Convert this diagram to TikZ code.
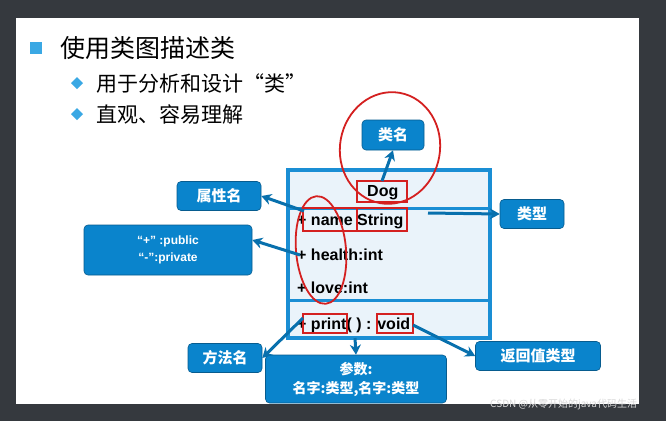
\documentclass[tikz,border=0pt]{standalone}
\usepackage{fontspec}
\setmainfont{Liberation Sans}
\newfontfamily\cjk{Noto Sans CJK SC}
\usetikzlibrary{arrows.meta}
\definecolor{dark}{HTML}{35393E}
\definecolor{lblue}{HTML}{0A84CC}
\definecolor{bul}{HTML}{3AA8E4}
\definecolor{boxfill}{HTML}{EAF3FA}
\definecolor{boxline}{HTML}{1A8ED4}
\definecolor{redc}{HTML}{D42020}
\tikzset{
 lbl/.style={fill=lblue,draw=lblue!70!black,line width=0.6pt,rounded corners=4pt,text=white,font=\cjk\bfseries\fontsize{15}{17}\selectfont,inner sep=0pt},
 arr/.style={draw=lblue!85!black,line width=3pt,-{Stealth[length=10pt,width=11pt]}},
 redbox/.style={draw=redc,line width=2pt},
 redring/.style={draw=redc,line width=1.8pt},
 uml/.style={font=\bfseries\fontsize{16}{18}\selectfont,anchor=west,inner sep=0pt},
}
\begin{document}
\begin{tikzpicture}[x=1pt,y=-1pt]
\fill[dark] (0,0) rectangle (666,421);
\fill[white] (16,18) rectangle (639,404);
% bullets
\fill[bul] (30,42) rectangle (42,54);
\node[anchor=west,inner sep=0pt,font=\cjk\fontsize{25}{27}\selectfont] (t1) at (60,48) {使用类图描述类};
\fill[bul] (71,83) -- (77,77) -- (83,83) -- (77,89) -- cycle;
\node[anchor=west,inner sep=0pt,font=\cjk\fontsize{21}{23}\selectfont] (t2) at (96,83) {用于分析和设计“类”};
\fill[bul] (71,114) -- (77,108) -- (83,114) -- (77,120) -- cycle;
\node[anchor=west,inner sep=0pt,font=\cjk\fontsize{21}{23}\selectfont] (t3) at (96,114) {直观、容易理解};
% UML box
\draw[boxline,fill=boxfill,line width=3.2pt] (288,170) rectangle (490,338);
\draw[boxline,line width=3pt] (288,208) -- (490,208);
\draw[boxline,line width=3pt] (288,300) -- (490,300);
\node[uml] (dog) at (367,193) {Dog};
\node[uml] (name) at (297,221) {+ name String};
\node[uml] (health) at (297,255) {+ health:int};
\node[uml] (love) at (297,288) {+ love:int};
\node[uml] (print) at (297,325) {+ print( ) : void};
% red boxes
\draw[redbox] (357,181) rectangle (407,202);
\draw[redbox] (303,208) rectangle (357,231);
\draw[redbox] (357,208) rectangle (407,231);
\draw[redbox] (303,314) rectangle (347,333);
\draw[redbox] (377,314) rectangle (413,333);
\draw[redring,rotate around={-10:(390,148)}] (390,148) ellipse (50 and 56);
\draw[redring,rotate around={5:(321,250)}] (321,250) ellipse (25 and 54);
% labels
\node[lbl,minimum width=62pt,minimum height=30pt] (lm) at (393,135) {类名};
\node[lbl,minimum width=84pt,minimum height=29pt] (sx) at (219,196) {属性名};
\node[lbl,minimum width=64pt,minimum height=29pt] (lx) at (532,214) {类型};
\node[lbl,minimum width=168pt,minimum height=50pt,font=\bfseries\fontsize{12}{17}\selectfont,align=center] (pp) at (168,250) {“+” :public\\“-”:private};
\node[lbl,minimum width=74pt,minimum height=29pt] (ff) at (225,358) {方法名};
\node[lbl,minimum width=181pt,minimum height=48pt,align=center,font=\cjk\bfseries\fontsize{14}{19}\selectfont] (cs) at (356,379) {参数:\\名字:类型,名字:类型};
\node[lbl,minimum width=125pt,minimum height=29pt] (fh) at (538,356) {返回值类型};
% arrows
\coordinate (a1) at (382,181);
\coordinate (a2) at (304,211);
\coordinate (a3) at (300,255);
\coordinate (a4) at (428,213);
\coordinate (a5) at (303,318);
\coordinate (a6) at (355,338);
\coordinate (a7) at (413,325);
\draw[arr] (a1) -- (lm.south);
\draw[arr] (a2) -- (sx.east);
\draw[arr] (a3) -- (pp.east |- 0,240);
\draw[arr] (a4) -- (lx.west);
\draw[arr] (a5) -- (ff.east);
\draw[arr] (a6) -- (cs.north);
\draw[arr] (a7) -- (fh.west);
\node[anchor=west,inner sep=0pt,text=gray!30,font=\cjk\fontsize{10}{11}\selectfont] (wm) at (490,404) {CSDN @从零开始的java代码生活};
\end{tikzpicture}
\end{document}
